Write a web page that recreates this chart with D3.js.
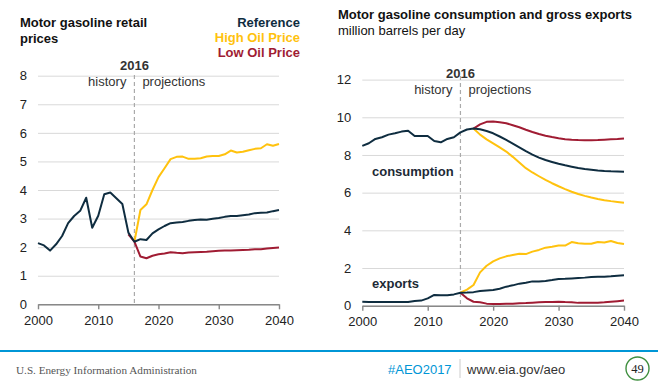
<!DOCTYPE html>
<html>
<head>
<meta charset="utf-8">
<script src="https://cdn.jsdelivr.net/npm/d3@7"></script>
<style>
  body { margin: 0; background: #fff; }
  text { font-family: "Liberation Sans", Arial, sans-serif; }
</style>
</head>
<body>
<div id="chart"></div>
<script>
// ---- data ----
// left panel: motor gasoline retail price, dollars per gallon
const priceHistStart = 2000;
const priceHistory = [2.14, 2.06, 1.88, 2.10, 2.39, 2.84, 3.09, 3.27, 3.73, 2.68, 3.10, 3.85, 3.91, 3.71, 3.51, 2.51, 2.19];
const priceRefStart = 2016;
const priceRef = [2.19, 2.28, 2.25, 2.48, 2.62, 2.74, 2.84, 2.86, 2.88, 2.92, 2.95, 2.97, 2.96, 2.99, 3.02, 3.06, 3.09, 3.09, 3.12, 3.14, 3.19, 3.20, 3.21, 3.26, 3.30];
const priceHighStart = 2016;
const priceHigh = [2.19, 3.30, 3.50, 4.00, 4.45, 4.76, 5.08, 5.16, 5.17, 5.09, 5.09, 5.11, 5.17, 5.19, 5.19, 5.25, 5.38, 5.31, 5.34, 5.39, 5.44, 5.46, 5.60, 5.55, 5.61];
const priceLowStart = 2015;
const priceLow = [2.45, 2.19, 1.67, 1.61, 1.70, 1.75, 1.78, 1.82, 1.80, 1.79, 1.81, 1.82, 1.83, 1.84, 1.86, 1.87, 1.88, 1.88, 1.89, 1.90, 1.91, 1.93, 1.93, 1.95, 1.97, 1.99];

// right panel: consumption and gross exports, million barrels per day
const consRefStart = 2000;
const consRef = [8.48, 8.62, 8.85, 8.94, 9.08, 9.15, 9.24, 9.29, 9.01, 9.01, 9.01, 8.74, 8.67, 8.85, 8.94, 9.20, 9.35,
  9.40, 9.36, 9.27, 9.15, 8.98, 8.80, 8.60, 8.40, 8.20, 8.02, 7.86, 7.73, 7.63, 7.53, 7.45, 7.38, 7.31, 7.26, 7.22, 7.18, 7.15, 7.13, 7.12, 7.11];
const consHighStart = 2017;
const consHigh = [9.40, 9.08, 8.83, 8.62, 8.40, 8.18, 7.90, 7.60, 7.30, 7.07, 6.87, 6.68, 6.50, 6.34, 6.19, 6.05, 5.93, 5.83, 5.74, 5.66, 5.60, 5.55, 5.51, 5.47];
const consLowStart = 2017;
const consLow = [9.40, 9.62, 9.76, 9.77, 9.74, 9.68, 9.58, 9.47, 9.34, 9.22, 9.11, 9.02, 8.95, 8.89, 8.84, 8.81, 8.79, 8.78, 8.78, 8.79, 8.81, 8.83, 8.85, 8.88];
const expRefStart = 2000;
const expRef = [0.21, 0.20, 0.20, 0.20, 0.20, 0.20, 0.20, 0.20, 0.25, 0.27, 0.39, 0.57, 0.55, 0.55, 0.60, 0.69, 0.70,
  0.72, 0.78, 0.81, 0.83, 0.90, 1.01, 1.08, 1.17, 1.22, 1.29, 1.29, 1.31, 1.36, 1.42, 1.43, 1.45, 1.47, 1.49, 1.52, 1.54, 1.54, 1.56, 1.59, 1.61];
const expHighStart = 2015;
const expHigh = [0.69, 0.85, 1.10, 1.77, 2.12, 2.35, 2.51, 2.62, 2.69, 2.76, 2.74, 2.87, 2.96, 3.08, 3.13, 3.19, 3.19, 3.38, 3.31, 3.29, 3.29, 3.38, 3.35, 3.43, 3.33, 3.27];
const expLowStart = 2015;
const expLow = [0.69, 0.39, 0.21, 0.18, 0.11, 0.09, 0.09, 0.10, 0.11, 0.13, 0.14, 0.16, 0.18, 0.20, 0.19, 0.21, 0.19, 0.18, 0.15, 0.16, 0.15, 0.16, 0.18, 0.21, 0.24, 0.27];

const xTicks = [2000, 2010, 2020, 2030, 2040];
const leftYTicks = [0, 1, 2, 3, 4, 5, 6, 7, 8];
const rightYTicks = [0, 2, 4, 6, 8, 10, 12];
const legendLabels = ["Reference", "High Oil Price", "Low Oil Price"];

const colors = { ref: "#0f2d40", high: "#ffc20e", low: "#a01c33" };
const legendColors = [colors.ref, colors.high, colors.low];

// turn a start year + values into points
const pts = (start, vals) => vals.map((v, i) => ({ year: start + i, value: v }));

const W = 658, H = 386;
const svg = d3.select("#chart").append("svg")
  .attr("width", W)
  .attr("height", H);

// draws one panel: grid, axis, dashed divider, lines
function panel(opts) {
  const x = d3.scaleLinear().domain([2000, 2040]).range([opts.x0, opts.x1]);
  const y = d3.scaleLinear().domain([0, opts.yMax]).range([opts.y0, opts.y1]);
  const g = svg.append("g");

  // gridlines + y labels
  g.append("g")
    .attr("transform", `translate(${opts.x0},0)`)
    .call(d3.axisLeft(y).tickValues(opts.yTicks).tickSize(-(opts.x1 - opts.x0)).tickPadding(11))
    .call(a => a.select(".domain").remove())
    .call(a => a.selectAll("line").attr("stroke", "#d9d9d9").attr("stroke-width", 1))
    .call(a => a.selectAll("text").attr("font-size", 13).attr("fill", "#222")
      .style("font-family", '"Liberation Sans", Arial, sans-serif'));

  // x axis
  g.append("g")
    .attr("transform", `translate(0,${opts.y0})`)
    .call(d3.axisBottom(x).tickValues(xTicks).tickFormat(d3.format("d")).tickSize(5).tickSizeOuter(0).tickPadding(6))
    .call(a => a.select(".domain").attr("stroke", "#888").attr("stroke-width", 1.6))
    .call(a => a.selectAll("line").attr("stroke", "#888").attr("stroke-width", 1.4))
    .call(a => a.selectAll("text").attr("font-size", 13).attr("fill", "#222")
      .style("font-family", '"Liberation Sans", Arial, sans-serif'));

  // history / projections divider
  const xd = x(opts.divYear);
  g.append("line")
    .attr("x1", xd).attr("x2", xd)
    .attr("y1", opts.dashTop).attr("y2", opts.y0)
    .attr("stroke", "#aaa").attr("stroke-width", 1.2)
    .attr("stroke-dasharray", "4,3");
  g.append("text")
    .attr("x", xd).attr("y", opts.labY)
    .attr("text-anchor", "middle")
    .attr("font-size", 13).attr("font-weight", "bold").attr("fill", "#333")
    .text("2016");
  g.append("text")
    .attr("x", xd - 8).attr("y", opts.labY + 16)
    .attr("text-anchor", "end")
    .attr("font-size", 13).attr("fill", "#333")
    .text("history");
  g.append("text")
    .attr("x", xd + 8).attr("y", opts.labY + 16)
    .attr("font-size", 13).attr("fill", "#333")
    .text("projections");

  const line = d3.line().x(d => x(d.year)).y(d => y(d.value));
  opts.series.forEach(s => {
    g.append("path")
      .datum(s.data)
      .attr("fill", "none")
      .attr("stroke", s.color)
      .attr("stroke-width", 2)
      .attr("stroke-linejoin", "round")
      .attr("d", line);
  });
  return { x, y, g };
}

// left panel
panel({
  x0: 38, x1: 279, y0: 304.3, y1: 75.7, yMax: 8, yTicks: leftYTicks,
  divYear: 2016, dashTop: 75, labY: 70,
  series: [
    { data: pts(priceHighStart, priceHigh), color: colors.high },
    { data: pts(priceLowStart, priceLow), color: colors.low },
    { data: pts(priceHistStart, priceHistory).concat(pts(priceRefStart, priceRef).slice(1)), color: colors.ref }
  ]
});

// right panel
const right = panel({
  x0: 362.3, x1: 624, y0: 305.7, y1: 79.6, yMax: 12, yTicks: rightYTicks,
  divYear: 2015, dashTop: 76, labY: 78.3,
  series: [
    { data: pts(consHighStart, consHigh), color: colors.high },
    { data: pts(consLowStart, consLow), color: colors.low },
    { data: pts(consRefStart, consRef), color: colors.ref },
    { data: pts(expHighStart, expHigh), color: colors.high },
    { data: pts(expLowStart, expLow), color: colors.low },
    { data: pts(expRefStart, expRef), color: colors.ref }
  ]
});

right.g.append("text")
  .attr("x", 372).attr("y", 175.5)
  .attr("font-size", 13).attr("font-weight", "bold").attr("fill", "#1d2a36")
  .text("consumption");
right.g.append("text")
  .attr("x", 372).attr("y", 287.5)
  .attr("font-size", 13).attr("font-weight", "bold").attr("fill", "#1d2a36")
  .text("exports");

// titles
svg.append("text").attr("x", 20).attr("y", 26.7)
  .attr("font-size", 13).attr("font-weight", "bold").attr("fill", "#111")
  .text("Motor gasoline retail");
svg.append("text").attr("x", 20).attr("y", 42.7)
  .attr("font-size", 13).attr("font-weight", "bold").attr("fill", "#111")
  .text("prices");
svg.append("text").attr("x", 338).attr("y", 19)
  .attr("font-size", 13).attr("font-weight", "bold").attr("fill", "#111")
  .text("Motor gasoline consumption and gross exports");
svg.append("text").attr("x", 338).attr("y", 34.5)
  .attr("font-size", 13).attr("fill", "#111")
  .text("million barrels per day");

// legend
svg.selectAll("text.legend")
  .data(legendLabels)
  .enter().append("text")
  .attr("class", "legend")
  .attr("x", 300)
  .attr("y", (d, i) => 26.7 + i * 15)
  .attr("text-anchor", "end")
  .attr("font-size", 13).attr("font-weight", "bold")
  .attr("fill", (d, i) => legendColors[i])
  .text(d => d);

// footer
svg.append("line")
  .attr("x1", 0).attr("x2", W).attr("y1", 351).attr("y2", 351)
  .attr("stroke", "#0096d6").attr("stroke-width", 2);
svg.append("text").attr("x", 16).attr("y", 374)
  .attr("font-size", 11.2).attr("fill", "#555")
  .style("font-family", '"Liberation Serif", "Times New Roman", serif')
  .text("U.S. Energy Information Administration");
svg.append("text").attr("x", 388).attr("y", 373.5)
  .attr("font-size", 13).attr("fill", "#0096d6")
  .text("#AEO2017");
svg.append("line")
  .attr("x1", 460).attr("x2", 460).attr("y1", 359).attr("y2", 378)
  .attr("stroke", "#ccc").attr("stroke-width", 1);
svg.append("text").attr("x", 467).attr("y", 373.5)
  .attr("font-size", 13).attr("fill", "#333")
  .text("www.eia.gov/aeo");
svg.append("circle")
  .attr("cx", 637.5).attr("cy", 368.5).attr("r", 11.5)
  .attr("fill", "none").attr("stroke", "#3f8f3f").attr("stroke-width", 1.4);
svg.append("text").attr("x", 637.5).attr("y", 372.7)
  .attr("text-anchor", "middle")
  .attr("font-size", 12.5).attr("fill", "#222")
  .style("font-family", '"Liberation Serif", "Times New Roman", serif')
  .text("49");
</script>
</body>
</html>
